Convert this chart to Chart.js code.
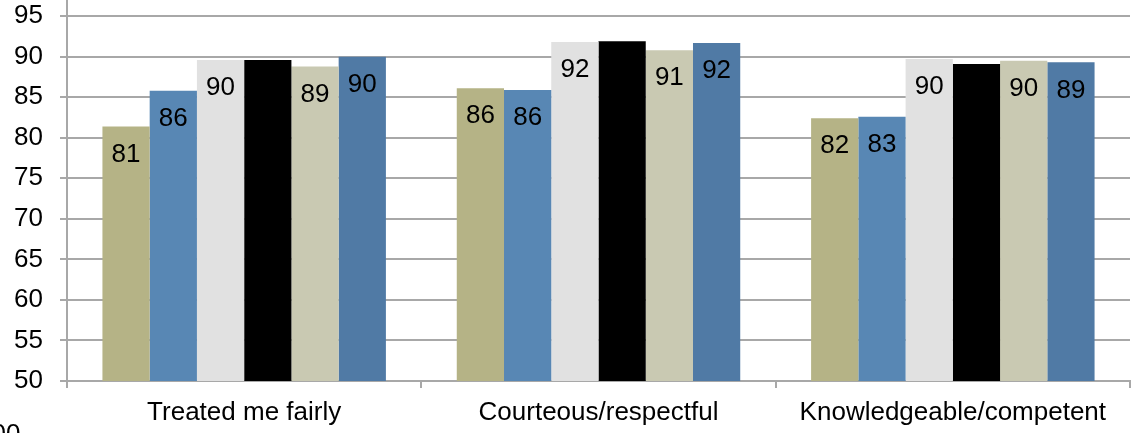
<!DOCTYPE html>
<html lang="en">
<head>
    <meta charset="UTF-8">
    <title>Service Ratings</title>
    <script src="https://cdn.jsdelivr.net/npm/chart.js"></script>
    <style>
        html, body { margin: 0; padding: 0; background: #fff; overflow: hidden; }
        body { width: 1134px; height: 433px; position: relative; }
        #wrap { position: absolute; left: 0; top: -57px; width: 1134px; height: 490px; }
        #nextAxis {
            position: absolute; left: -23px; top: 420px;
            font: 26px 'Liberation Sans', Arial, sans-serif; line-height: 26px; color: #000;
        }
    </style>
</head>
<body>
    <div id="wrap"><canvas id="ratingsChart"></canvas></div>
    <div id="nextAxis">100</div>

    <script>
        const categories = ['Treated me fairly', 'Courteous/respectful', 'Knowledgeable/competent'];

        const series1 = [81.4, 86.1, 82.4];
        const series2 = [85.8, 85.9, 82.6];
        const series3 = [89.6, 91.8, 89.7];
        const series4 = [89.6, 91.9, 89.1];
        const series5 = [88.8, 90.8, 89.5];
        const series6 = [90.0, 91.7, 89.3];

        const yTicks = [50, 55, 60, 65, 70, 75, 80, 85, 90, 95, 100];

        const FONT = "'Liberation Sans', Arial, sans-serif";
        const GRID = '#a8a8a8';

        // value labels just inside the top of each bar
        const barLabels = {
            id: 'barLabels',
            afterDatasetsDraw(chart) {
                const ctx = chart.ctx;
                ctx.save();
                ctx.font = '26px ' + FONT;
                ctx.fillStyle = '#000';
                ctx.textAlign = 'center';
                ctx.textBaseline = 'middle';
                chart.data.datasets.forEach((ds, i) => {
                    chart.getDatasetMeta(i).data.forEach((bar, j) => {
                        ctx.fillText(Math.round(ds.data[j]), bar.x, bar.y + 28);
                    });
                });
                ctx.restore();
            }
        };

        function makeSet(data, color) {
            return { data: data, backgroundColor: color, borderWidth: 0,
                     categoryPercentage: 0.8, barPercentage: 1.0 };
        }

        const ctx = document.getElementById('ratingsChart').getContext('2d');
        new Chart(ctx, {
            type: 'bar',
            data: {
                labels: categories,
                datasets: [
                    makeSet(series1, '#b5b386'),
                    makeSet(series2, '#5887b4'),
                    makeSet(series3, '#e1e1e1'),
                    makeSet(series4, '#000000'),
                    makeSet(series5, '#c9c9b2'),
                    makeSet(series6, '#507aa5')
                ]
            },
            options: {
                responsive: true,
                maintainAspectRatio: false,
                animation: false,
                layout: { padding: { top: 20, right: 4, left: 0, bottom: 0 } },
                plugins: {
                    legend: { display: false },
                    tooltip: { enabled: false }
                },
                scales: {
                    x: {
                        grid: { drawOnChartArea: false, color: GRID, lineWidth: 2, tickLength: 7 },
                        border: { color: GRID, width: 2 },
                        ticks: { color: '#000', font: { family: FONT, size: 26 }, padding: 9, maxRotation: 0 },
                        afterFit(scale) { scale.height = 52; }
                    },
                    y: {
                        min: 50,
                        max: 100,
                        afterBuildTicks(scale) { scale.ticks = yTicks.map(v => ({ value: v })); },
                        grid: { color: GRID, lineWidth: 2, tickLength: 7 },
                        border: { color: GRID, width: 2 },
                        ticks: { color: '#000', font: { family: FONT, size: 26 }, padding: 17 },
                        afterFit(scale) { scale.width = 67; }
                    }
                }
            },
            plugins: [barLabels]
        });
    </script>
</body>
</html>
